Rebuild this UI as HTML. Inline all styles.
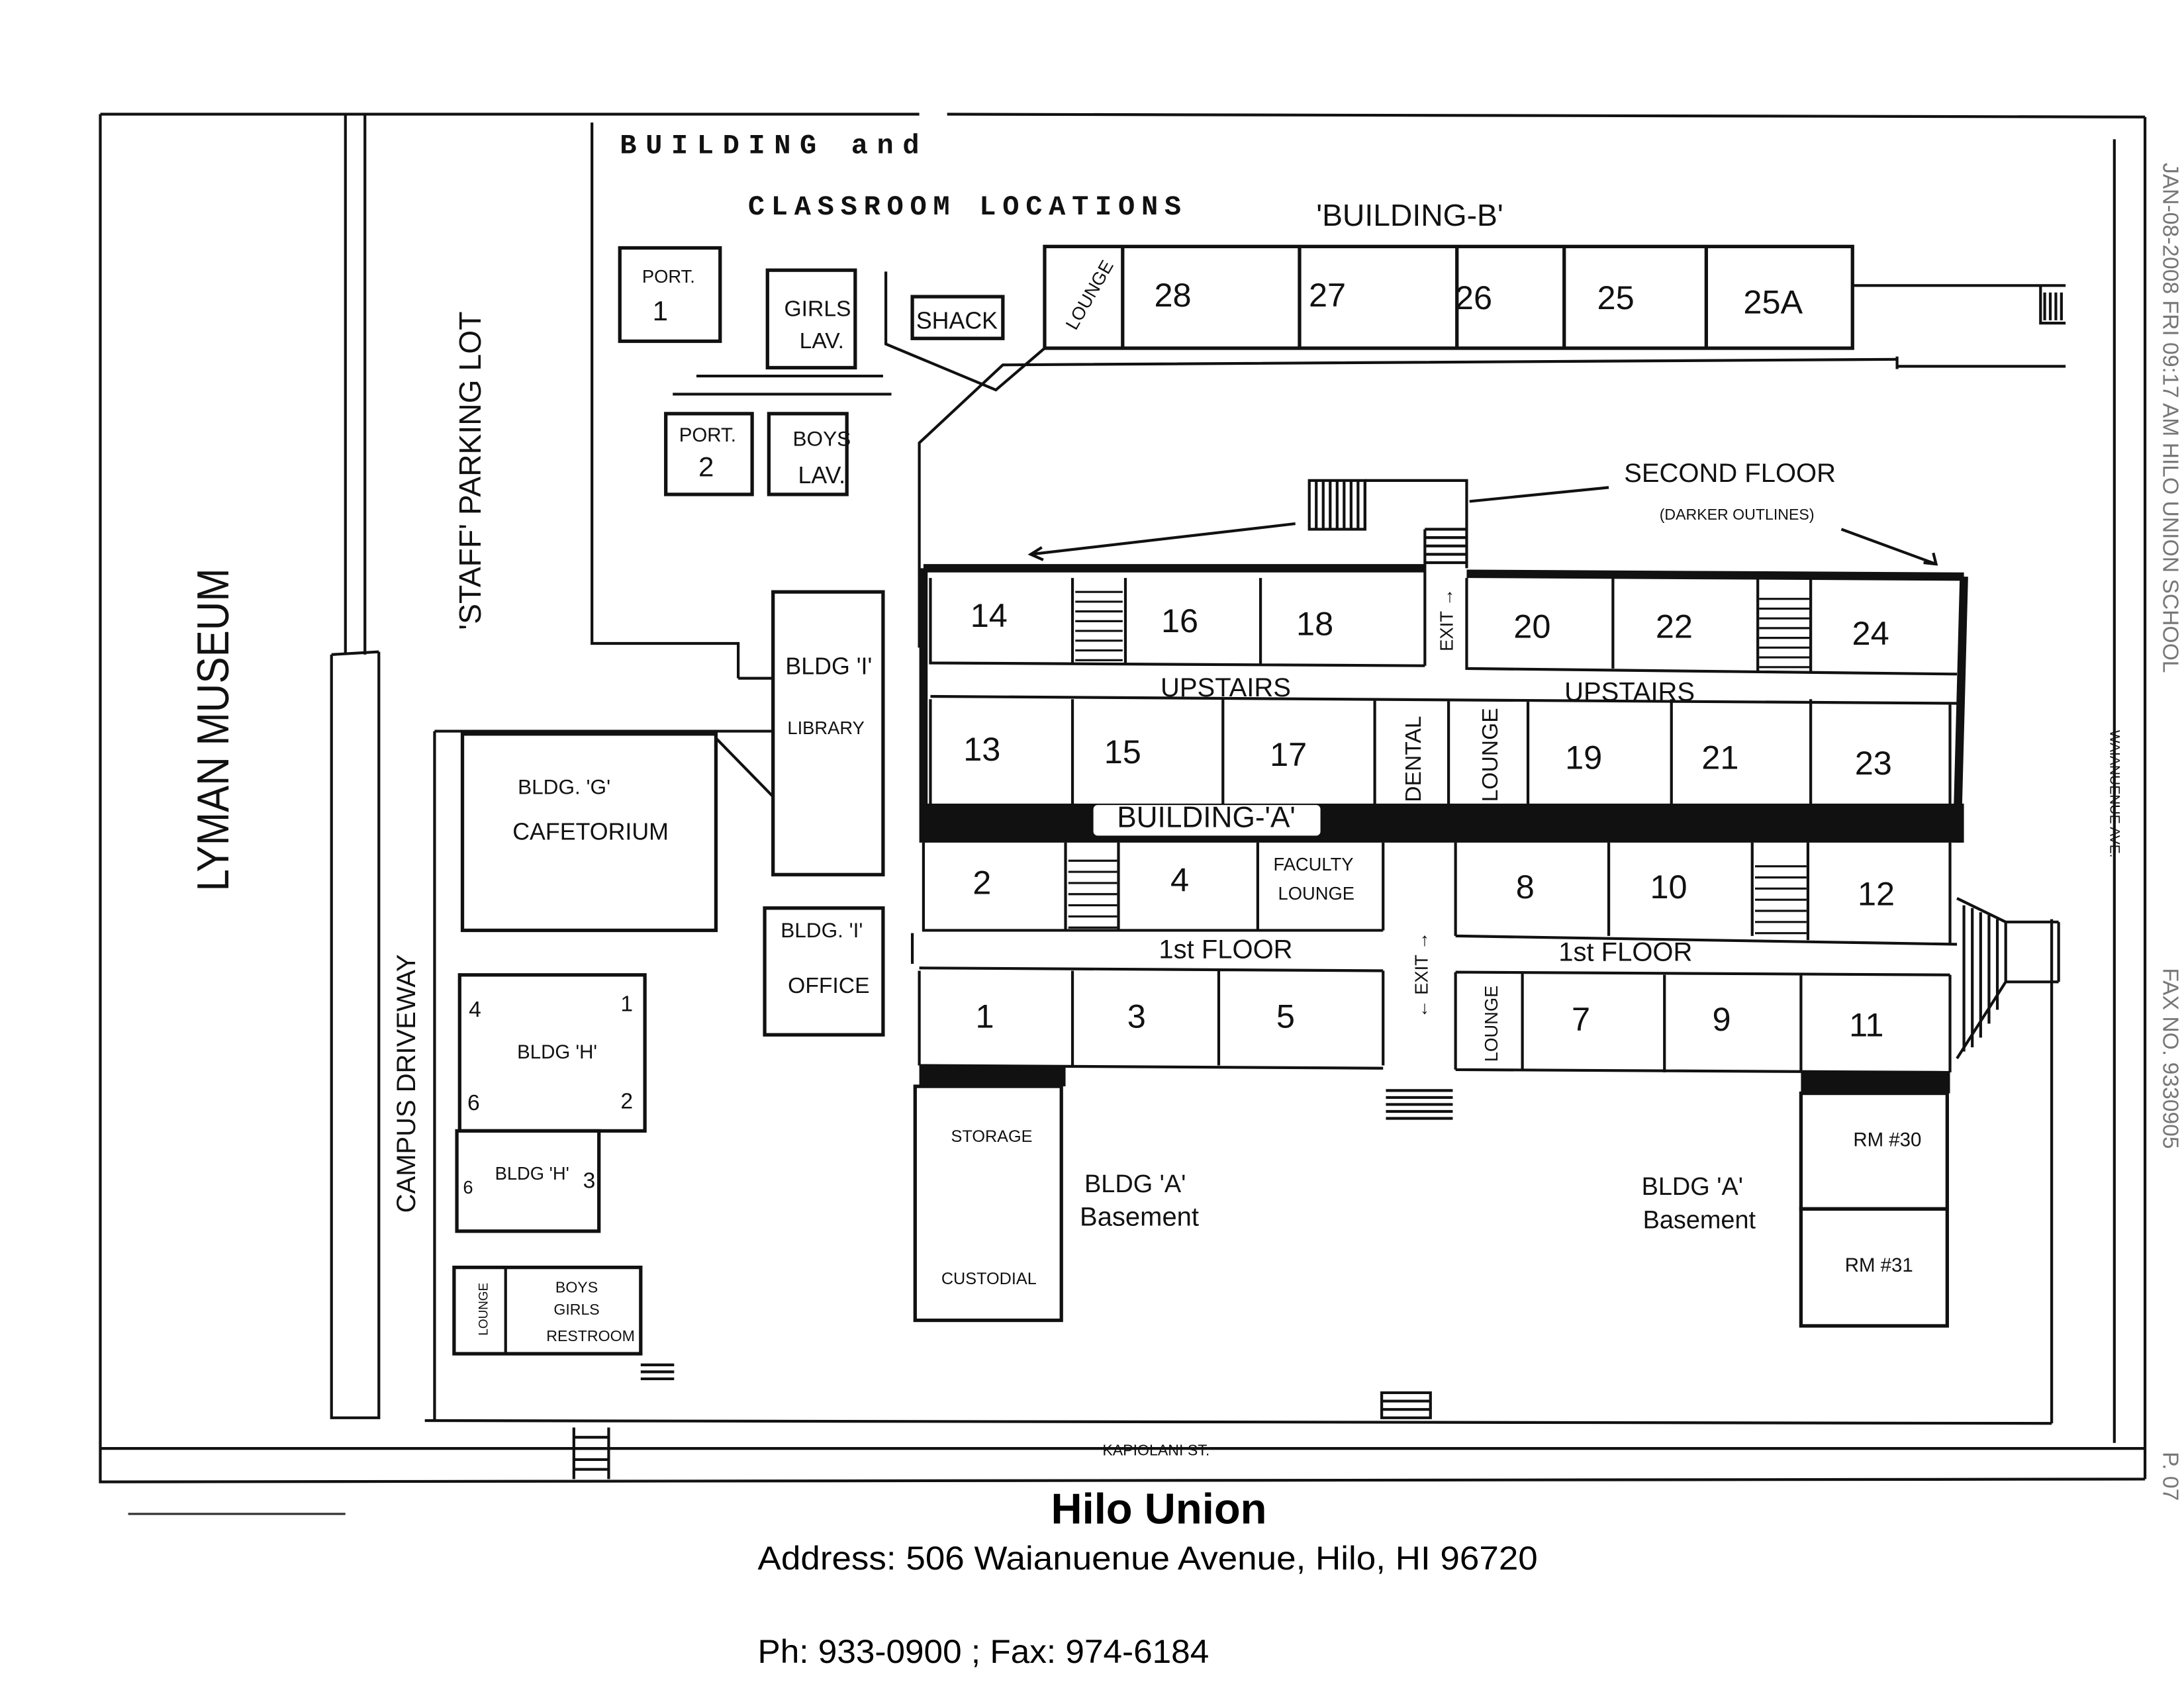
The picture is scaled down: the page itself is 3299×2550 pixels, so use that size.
<!DOCTYPE html>
<html><head><meta charset="utf-8"><style>
html,body{margin:0;padding:0;background:#fff}
svg{display:block}
.h{font-family:"Liberation Sans Narrow","Liberation Sans",sans-serif;fill:#111}
.m{font-family:"Liberation Mono",monospace;font-weight:bold;fill:#111}
</style></head><body>
<svg width="3299" height="2550" viewBox="0 0 1568 1212" xmlns="http://www.w3.org/2000/svg">
<rect width="1568" height="1212" fill="#fff"/>
<g stroke="#111" stroke-width="2" fill="none">
<path d="M72 82 L660 82 M680 82 L1540 84 M72 82 L72 1064 L1540 1062 M1540 84 L1540 1062"/>
<path d="M1518 100 L1518 1036"/>
<path d="M248 82 L248 470 M262 82 L262 470"/>
<path d="M238 470 L272 468 M238 470 L238 1018 L272 1018 L272 468"/>
<path d="M425 88 L425 462 L530 462 L530 487"/>
<path d="M312 525 L555 525 M312 525 L312 1020"/>
<path d="M305 1020 L1473 1022 M72 1040 L1540 1040 M1473 660 L1473 1022"/>
<path d="M750 177 L1330 177 L1330 250 L750 250 Z M806 177 L806 250 M933 177 L933 250 M1046 177 L1046 250 M1123 177 L1123 250 M1225 177 L1225 250" stroke-width="2.5"/>
<path d="M1330 205 L1483 205 M1362 263 L1483 263 M1362 256 L1362 265 M1465 205 L1465 232 L1483 232 M1468 210 L1468 230 M1472 210 L1472 230 M1476 210 L1476 230 M1480 210 L1480 230"/>
<path d="M636 195 L636 247 L715 280 L750 250"/>
<path d="M660 465 L660 318 L720 262 L1362 258"/>
<rect x="445" y="178" width="72" height="67" stroke-width="2.5"/>
<rect x="551" y="194" width="63" height="70" stroke-width="2.5"/>
<rect x="655" y="213" width="65" height="30" stroke-width="2.5"/>
<path d="M500 270 L634 270 M483 283 L640 283"/>
<rect x="478" y="297" width="62" height="58" stroke-width="2.5"/>
<rect x="552" y="297" width="56" height="58" stroke-width="2.5"/>
<rect x="940" y="345" width="40" height="35"/>
<path d="M945 345 V380 M950 345 V380 M955 345 V380 M960 345 V380 M965 345 V380 M970 345 V380 M975 345 V380"/>
<path d="M980 345 L1053 345 L1053 408 M1023 380 L1053 380 M1023 386 L1053 386 M1023 392 L1053 392 M1023 398 L1053 398 M1023 404 L1053 404 M1023 380 L1023 408 M980 345 L980 380"/>
<path d="M1155 350 L1055 360 M930 376 L740 398 M1322 380 L1390 405"/>
<path d="M748 393 L740 398 L749 402 M1381 404 L1390 405 L1388 397"/>
<path d="M663 408 L1023 408 M1053 412 L1410 414 M663 408 L663 605 M1410 414 L1405 605" stroke-width="6"/>
<path d="M668 415 L668 476 L1023 478 M1053 415 L1053 480 L1405 484 M770 415 V476 M808 415 V476 M905 415 V477 M1023 408 V478 M1158 415 V480 M1262 415 V482 M1300 415 V483"/>
<path d="M668 500 L1405 505 M668 502 V577 M770 502 V577 M878 502 V577 M987 502 V577 M1040 502 V577 M1097 502 V577 M1200 502 V577 M1300 502 V577 M1400 505 V577"/>
<g stroke-width="1.5"><path d="M772 425 H806 M772 432 H806 M772 439 H806 M772 446 H806 M772 453 H806 M772 460 H806 M772 467 H806 M772 474 H806"/>
<path d="M1263 430 H1299 M1263 437 H1299 M1263 444 H1299 M1263 451 H1299 M1263 458 H1299 M1263 465 H1299 M1263 472 H1299 M1263 479 H1299"/>
<path d="M767 618 H802 M767 626 H802 M767 634 H802 M767 642 H802 M767 650 H802 M767 658 H802 M767 666 H802"/>
<path d="M1260 622 H1297 M1260 630 H1297 M1260 638 H1297 M1260 646 H1297 M1260 654 H1297 M1260 662 H1297 M1260 670 H1297"/></g>
<path d="M663 605 V668 L993 668 M765 605 V668 M803 605 V668 M903 605 V668 M993 605 V668 M1045 605 V672 M1155 605 V672 M1258 605 V672 M1298 605 V675 M1400 605 V678 M1045 672 L1405 678"/>
<path d="M660 695 L993 697 M1045 698 L1400 700 M660 697 V765 M770 697 V765 M875 697 V765 M993 697 V765 M1045 698 V768 M1093 698 V768 M1195 700 V770 M1293 700 V770 M1400 700 V770 M660 765 L993 767 M1045 768 L1400 770 M655 670 V692"/>
<rect x="657" y="780" width="105" height="168" stroke-width="2.5"/>
<rect x="1293" y="785" width="105" height="83" stroke-width="2.5"/>
<rect x="1293" y="868" width="105" height="84" stroke-width="2.5"/>
<path d="M995 783 H1043 M995 788 H1043 M995 793 H1043 M995 798 H1043 M995 803 H1043"/>
<path d="M992 1000 H1027 V1018 H992 Z M992 1006 H1027 M992 1012 H1027"/>
<path d="M412 1025 V1062 M437 1025 V1062 M412 1032 H437 M412 1040 H437 M412 1048 H437 M412 1055 H437"/>
<path d="M460 980 H484 M460 985 H484 M460 990 H484"/>
<path d="M1405 645 L1440 662 L1440 705 L1405 760 M1410 650 V755 M1416 652 V752 M1422 655 V745 M1428 657 V735 M1434 660 V725 M1440 662 L1478 662 M1440 705 L1478 705 M1478 662 V705"/>
<rect x="555" y="425" width="79" height="203" stroke-width="2.5"/>
<path d="M514 530 L555 572 M530 487 L555 487"/>
<rect x="549" y="652" width="85" height="91" stroke-width="2.5"/>
<rect x="332" y="527" width="182" height="141" stroke-width="2.5"/>
<rect x="330" y="700" width="133" height="112" stroke-width="2.5"/>
<rect x="328" y="812" width="102" height="72" stroke-width="2.5"/>
<rect x="326" y="910" width="134" height="62" stroke-width="2.5"/>
<path d="M363 910 V972"/>
</g>
<rect x="663" y="577" width="747" height="28" fill="#111"/>
<rect x="785" y="578" width="163" height="22" fill="#fff" rx="3"/>
<rect x="660" y="765" width="105" height="15" fill="#111"/>
<rect x="1293" y="770" width="107" height="15" fill="#111"/>

<text class="m" x="445" y="110" font-size="20" textLength="215" lengthAdjust="spacing">BUILDING   and</text>
<text class="m" x="537" y="154" font-size="20" textLength="311" lengthAdjust="spacing">CLASSROOM LOCATIONS</text>
<text class="h" x="945" y="162" font-size="22">'BUILDING-B'</text>
<g class="h" font-size="24" text-anchor="middle">
<text x="842" y="220">28</text><text x="953" y="220">27</text><text x="1058" y="222">26</text><text x="1160" y="222">25</text><text x="1273" y="225">25A</text>
<text x="710" y="450">14</text><text x="847" y="454">16</text><text x="944" y="456">18</text><text x="1100" y="458">20</text><text x="1202" y="458">22</text><text x="1343" y="463">24</text>
<text x="705" y="546">13</text><text x="806" y="548">15</text><text x="925" y="550">17</text><text x="1137" y="552">19</text><text x="1235" y="552">21</text><text x="1345" y="556">23</text>
<text x="705" y="642">2</text><text x="847" y="640">4</text><text x="1095" y="645">8</text><text x="1198" y="645">10</text><text x="1347" y="650">12</text>
<text x="707" y="738">1</text><text x="816" y="738">3</text><text x="923" y="738">5</text><text x="1135" y="740">7</text><text x="1236" y="740">9</text><text x="1340" y="744">11</text>
</g>
<g class="h" font-size="19" text-anchor="middle">
<text x="880" y="500">UPSTAIRS</text><text x="1170" y="503">UPSTAIRS</text>
<text x="866" y="594" font-size="21">BUILDING-'A'</text>
<text x="880" y="688">1st FLOOR</text><text x="1167" y="690">1st FLOOR</text>
</g>
<g class="h" font-size="13" text-anchor="middle">
<text x="943" y="625">FACULTY</text><text x="945" y="646">LOUNGE</text>
<text x="480" y="203">PORT.</text><text x="474" y="230" font-size="20">1</text>
<text x="587" y="227" font-size="16">GIRLS</text><text x="590" y="250" font-size="16">LAV.</text>
<text x="687" y="236" font-size="17">SHACK</text>
<text x="508" y="317" font-size="14">PORT.</text><text x="507" y="342" font-size="20">2</text>
<text x="590" y="320" font-size="15">BOYS</text><text x="590" y="347" font-size="17">LAV.</text>
<text x="595" y="484" font-size="17">BLDG 'I'</text><text x="593" y="527">LIBRARY</text>
<text x="590" y="673" font-size="15">BLDG. 'I'</text><text x="595" y="713" font-size="16">OFFICE</text>
<text x="405" y="570" font-size="15">BLDG. 'G'</text><text x="424" y="603" font-size="17">CAFETORIUM</text>
<text x="400" y="760" font-size="14">BLDG 'H'</text>
<text x="341" y="730" font-size="16">4</text><text x="450" y="726" font-size="16">1</text><text x="340" y="797" font-size="16">6</text><text x="450" y="796" font-size="16">2</text>
<text x="382" y="847">BLDG 'H'</text><text x="336" y="857">6</text><text x="423" y="853" font-size="16">3</text>
<text x="414" y="928" font-size="11">BOYS</text><text x="414" y="944" font-size="11">GIRLS</text><text x="424" y="963" font-size="11">RESTROOM</text>
<text x="712" y="820" font-size="12">STORAGE</text><text x="710" y="922" font-size="12">CUSTODIAL</text>
<text x="1355" y="823" font-size="14">RM #30</text><text x="1349" y="913" font-size="14">RM #31</text>
<text x="815" y="856" font-size="18">BLDG 'A'</text><text x="818" y="880" font-size="19">Basement</text>
<text x="1215" y="858" font-size="18">BLDG 'A'</text><text x="1220" y="882" font-size="18">Basement</text>
<text x="1242" y="346" font-size="19">SECOND FLOOR</text><text x="1247" y="373" font-size="11">(DARKER OUTLINES)</text>
<text x="830" y="1045" font-size="11">KAPIOLANI ST.</text>
</g>
<g class="h" font-size="16" text-anchor="middle">
<text transform="translate(786,214) rotate(-60)" font-size="13">LOUNGE</text>
<text transform="translate(1043,445) rotate(-90)" font-size="13">EXIT →</text>
<text transform="translate(1020,545) rotate(-90)">DENTAL</text>
<text transform="translate(1075,542) rotate(-90)">LOUNGE</text>
<text transform="translate(1025,700) rotate(-90)" font-size="13">← EXIT →</text>
<text transform="translate(1075,735) rotate(-90)" font-size="13">LOUNGE</text>
<text transform="translate(350,940) rotate(-90)" font-size="9">LOUNGE</text>
<text transform="translate(164,524) rotate(-90)" font-size="32" textLength="232" lengthAdjust="spacingAndGlyphs">LYMAN MUSEUM</text>
<text transform="translate(345,338) rotate(-90)" font-size="22">'STAFF' PARKING LOT</text>
<text transform="translate(298,778) rotate(-90)" font-size="19">CAMPUS DRIVEWAY</text>
<text transform="translate(1515,570) rotate(90)" font-size="10">WAIANUENUE AVE.</text>
<text transform="translate(1553,300) rotate(90)" font-size="16" fill="#777">JAN-08-2008 FRI 09:17 AM HILO UNION SCHOOL</text>
<text transform="translate(1553,760) rotate(90)" font-size="16" fill="#777">FAX NO. 9330905</text>
<text transform="translate(1553,1060) rotate(90)" font-size="16" fill="#777">P. 07</text>
</g>
<text x="832" y="1094" font-family="Liberation Sans,sans-serif" font-weight="bold" font-size="31" text-anchor="middle" fill="#000">Hilo Union</text>
<text x="544" y="1127" font-family="Liberation Sans,sans-serif" font-size="24" fill="#000" textLength="560" lengthAdjust="spacingAndGlyphs">Address: 506 Waianuenue Avenue, Hilo, HI 96720</text>
<text x="544" y="1194" font-family="Liberation Sans,sans-serif" font-size="24" fill="#000" textLength="324" lengthAdjust="spacingAndGlyphs">Ph: 933-0900 ; Fax: 974-6184</text>
<path d="M92 1087 L248 1087" stroke="#333" stroke-width="1.5"/>
</svg>
</body></html>
